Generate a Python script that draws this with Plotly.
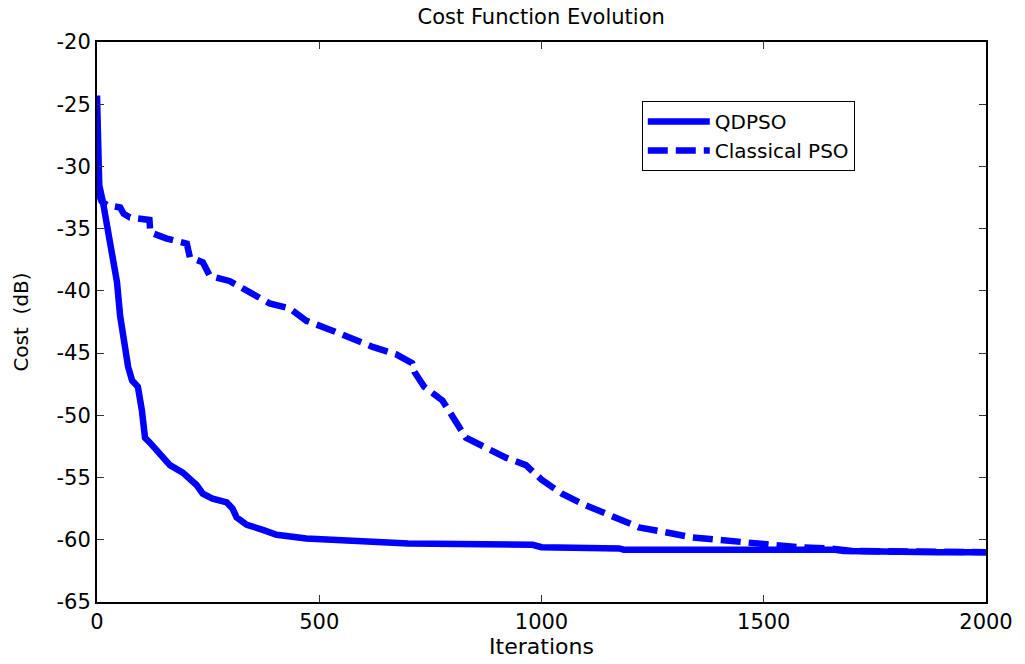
import plotly.graph_objects as go

qd_iter = [0, 2, 5, 13, 25, 36, 45, 52, 63, 70, 79, 92, 101, 108, 119, 141, 164, 193,
           224, 238, 260, 292, 305, 314, 337, 373, 404, 471, 545, 620, 700, 980, 1000,
           1175, 1185, 1660, 1680, 1890, 2000]
qd_cost = [-24.3, -29.5, -31.5, -32.8, -35.0, -37.4, -39.3, -42.0, -44.8, -46.1, -47.2,
           -47.7, -49.6, -51.8, -52.2, -53.0, -54.0, -54.6, -55.6, -56.3, -56.7, -57.0,
           -57.5, -58.2, -58.8, -59.2, -59.6, -59.9, -60.0, -60.2, -60.3, -60.4, -60.6,
           -60.7, -60.8, -60.8, -60.9, -61.0, -61.0]

pso_iter = [0, 10, 22, 52, 60, 74, 118, 120, 157, 202, 209, 238, 254, 298, 343, 388, 433,
            471, 530, 568, 620, 673, 709, 714, 736, 777, 792, 808, 830, 875, 920, 965,
            1001, 1046, 1091, 1145, 1174, 1219, 1279, 1338, 1398, 1466, 1517, 1578, 1652,
            1700, 1890, 2000]
pso_cost = [-31.8, -32.8, -33.1, -33.3, -33.8, -34.1, -34.3, -35.3, -35.8, -36.2, -37.3,
            -37.7, -38.8, -39.2, -40.1, -41.0, -41.4, -42.4, -43.2, -43.8, -44.5, -45.1,
            -45.8, -46.5, -47.7, -48.8, -49.6, -50.6, -51.8, -52.6, -53.4, -54.0, -55.2,
            -56.3, -57.1, -57.9, -58.3, -59.0, -59.4, -59.8, -60.0, -60.3, -60.4, -60.6,
            -60.7, -60.9, -61.0, -61.0]

x_ticks = [0, 500, 1000, 1500, 2000]
y_ticks = [-20, -25, -30, -35, -40, -45, -50, -55, -60, -65]

FONT = "DejaVu Sans"
BLUE = "#0000FF"

fig = go.Figure()
fig.add_trace(go.Scatter(x=qd_iter, y=qd_cost, mode="lines", name="QDPSO",
                         line=dict(color=BLUE, width=6.5)))
fig.add_trace(go.Scatter(x=pso_iter, y=pso_cost, mode="lines", name="Classical PSO",
                         line=dict(color=BLUE, width=6.5, dash="20px,8px")))

axis_common = dict(showgrid=False, zeroline=False, showline=True, linecolor="black",
                   linewidth=2, mirror="ticks", ticks="inside", ticklen=7, tickwidth=1,
                   tickcolor="#333333", tickfont=dict(family=FONT, size=21, color="black"))

fig.update_layout(
    width=1025, height=664,
    margin=dict(l=97, r=37, t=42, b=62),
    paper_bgcolor="white", plot_bgcolor="white",
    title=dict(text="Cost Function Evolution", x=0.528, xanchor="center",
               y=1 - 17 / 664, yanchor="middle", yref="container",
               font=dict(family=FONT, size=21, color="black")),
    xaxis=dict(range=[0, 2000], tickvals=x_ticks, ticktext=[str(v) for v in x_ticks],
               title=dict(text="Iterations", font=dict(family=FONT, size=22, color="black"),
                          standoff=0),
               **axis_common),
    yaxis=dict(range=[-65, -20], tickvals=y_ticks, ticktext=[str(v) for v in y_ticks],
               title=dict(text="Cost \u00a0(dB)", font=dict(family=FONT, size=20, color="black"),
                          standoff=22),
               **axis_common),
    legend=dict(x=0.6128, y=0.8946, xanchor="left", yanchor="top",
                bgcolor="white", bordercolor="black", borderwidth=1,
                font=dict(family=FONT, size=20, color="black"),
                itemwidth=62, tracegroupgap=0),
    showlegend=True,
)

fig.write_html("out.html")
